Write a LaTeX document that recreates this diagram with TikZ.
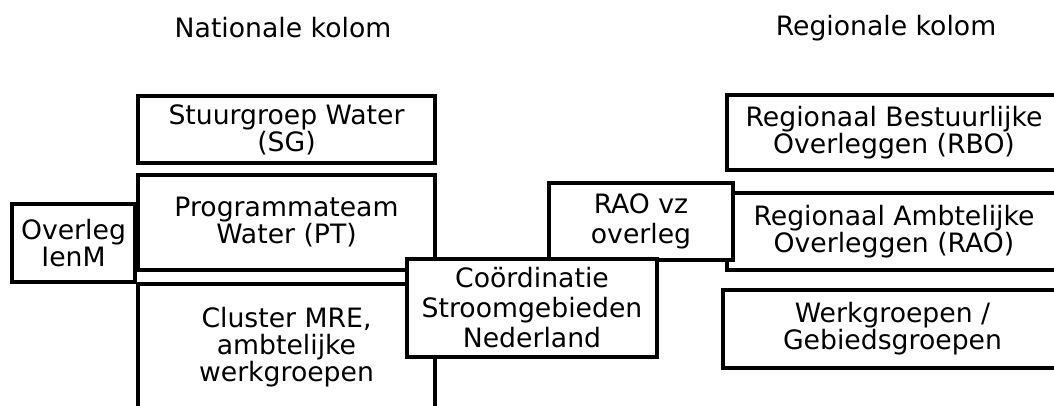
\documentclass[tikz,border=0pt]{standalone}
\usepackage{fontspec}
\setmainfont{DejaVu Sans}

\begin{document}
\begin{tikzpicture}[x=0.75pt,y=-0.75pt,
    orgbox/.style={draw, fill=white, line width=3pt, align=center, inner sep=0pt,
      font=\fontsize{20}{20.3}\selectfont},
    widebox/.style={orgbox, font=\fontsize{20}{22.5}\selectfont},
    kolom/.style={font=\fontsize{20}{24}\selectfont}]
    \useasboundingbox (0,0) rectangle (1054,406);
    \clip (0,0) rectangle (1054,406);
    % kolom titels
    \node[kolom] (nationaal) at (283,28) {Nationale kolom};
    \node[kolom] (regionaal) at (886,28) {Regionale kolom};
    % nationale kolom
    \node[orgbox, minimum width=222.75pt, minimum height=50.25pt] (sg) at (286.5,129.5)
      {Stuurgroep Water\\(SG)};
    \node[orgbox, minimum width=222.75pt, minimum height=71.25pt] (pt) at (286.5,222.5)
      {Programmateam\\Water (PT)};
    \node[orgbox, minimum width=92.25pt, minimum height=58.5pt] (ienm) at (73.5,243)
      {Overleg\\IenM};
    \node[orgbox, minimum width=222.75pt, minimum height=94.5pt] (mre) at (286.5,347)
      {Cluster MRE,\\ambtelijke\\werkgroepen};
    % regionale kolom
    \node[orgbox, minimum width=250.5pt, minimum height=56.25pt] (rbo) at (894,132.5)
      {Regionaal Bestuurlijke\\Overleggen (RBO)};
    \node[orgbox, minimum width=250.5pt, minimum height=57.75pt] (rao) at (894,231.5)
      {Regionaal Ambtelijke\\Overleggen (RAO)};
    \node[orgbox, minimum width=254.25pt, minimum height=58.5pt] (werk) at (892.5,329)
      {Werkgroepen /\\Gebiedsgroepen};
    % verbindende overleggen
    \node[widebox, minimum width=138pt, minimum height=57.75pt] (raovz) at (641,221.5)
      {RAO vz\\overleg};
    \node[widebox, minimum width=187.5pt, minimum height=73.5pt] (csn) at (532,308)
      {Coördinatie\\Stroomgebieden\\Nederland};
\end{tikzpicture}
\end{document}
